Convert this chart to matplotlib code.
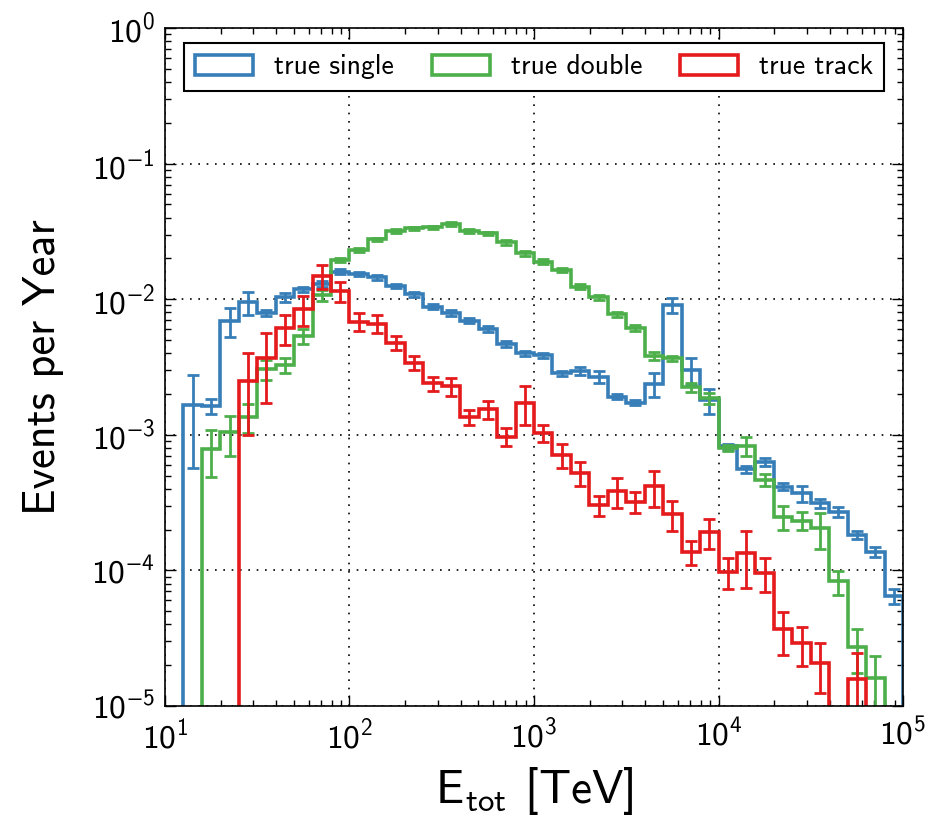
import numpy as np
import matplotlib
matplotlib.use('Agg')
import matplotlib.pyplot as plt
from matplotlib.ticker import FuncFormatter, LogLocator

plt.rcParams['font.family'] = ['cmss10', 'DejaVu Sans']
plt.rcParams['mathtext.fontset'] = 'custom'
plt.rcParams['mathtext.rm'] = 'cmss10'
plt.rcParams['mathtext.sf'] = 'cmss10'
plt.rcParams['mathtext.fallback'] = 'stixsans'  # cmss10 has no minus sign

# 10 bins per decade, 10 TeV .. 1e5 TeV
edges = np.logspace(1, 5, 41)

single = [0, 1.66e-3, 1.63e-3, 6.9e-3, 9.5e-3, 7.9e-3, 1.03e-2, 1.18e-2, 1.29e-2, 1.6e-2,
          1.53e-2, 1.45e-2, 1.25e-2, 1.09e-2, 8.8e-3, 7.9e-3, 6.95e-3, 6.0e-3, 4.65e-3, 3.98e-3,
          3.85e-3, 2.84e-3, 2.95e-3, 2.68e-3, 1.91e-3, 1.73e-3, 2.37e-3, 9.06e-3, 3.0e-3, 1.8e-3,
          8.2e-4, 5.56e-4, 6.34e-4, 4.15e-4, 3.7e-4, 3.12e-4, 2.71e-4, 1.82e-4, 1.37e-4, 6.5e-5]
single_rel = [0, 0.66, 0.12, 0.24, 0.19, 0.05, 0.08, 0.05, 0.05, 0.04,
              0.03, 0.04, 0.04, 0.04, 0.04, 0.05, 0.04, 0.05, 0.05, 0.05,
              0.05, 0.04, 0.07, 0.10, 0.04, 0.04, 0.20, 0.13, 0.22, 0.21,
              0.05, 0.06, 0.07, 0.06, 0.13, 0.08, 0.08, 0.07, 0.09, 0.13]

double = [0, 0, 7.85e-4, 1.04e-3, 1.36e-3, 3.04e-3, 3.27e-3, 5.36e-3, 1.07e-2, 1.95e-2,
          2.31e-2, 2.76e-2, 3.2e-2, 3.33e-2, 3.39e-2, 3.58e-2, 3.2e-2, 3.06e-2, 2.63e-2, 2.18e-2,
          1.89e-2, 1.64e-2, 1.24e-2, 1.03e-2, 7.73e-3, 6.1e-3, 3.81e-3, 3.66e-3, 2.24e-3, 1.86e-3,
          7.95e-4, 8.3e-4, 4.64e-4, 2.49e-4, 2.33e-4, 2.04e-4, 8.3e-5, 2.74e-5, 1.6e-5, 0]
double_rel = [0, 0, 0.38, 0.33, 0.24, 0.17, 0.12, 0.13, 0.10, 0.04,
              0.03, 0.03, 0.03, 0.03, 0.03, 0.03, 0.03, 0.03, 0.04, 0.04,
              0.04, 0.04, 0.04, 0.04, 0.05, 0.05, 0.07, 0.05, 0.08, 0.10,
              0.05, 0.16, 0.10, 0.20, 0.15, 0.30, 0.20, 0.36, 0.45, 0]

track = [0, 0, 0, 0, 2.49e-3, 3.66e-3, 6.1e-3, 8.4e-3, 1.48e-2, 1.15e-2,
         6.83e-3, 6.6e-3, 4.78e-3, 3.4e-3, 2.4e-3, 2.29e-3, 1.35e-3, 1.54e-3, 9.7e-4, 1.73e-3,
         1.03e-3, 7.1e-4, 5.26e-4, 3.04e-4, 3.87e-4, 3.21e-4, 4.19e-4, 2.59e-4, 1.37e-4, 1.93e-4,
         9.8e-5, 1.35e-4, 9.6e-5, 3.67e-5, 2.9e-5, 2.08e-5, 0, 1.57e-5, 0, 0]
track_rel = [0, 0, 0, 0, 0.60, 0.53, 0.25, 0.25, 0.20, 0.17,
             0.15, 0.15, 0.12, 0.12, 0.12, 0.15, 0.13, 0.15, 0.15, 0.32,
             0.14, 0.20, 0.20, 0.17, 0.25, 0.17, 0.30, 0.25, 0.20, 0.25,
             0.25, 0.45, 0.28, 0.35, 0.32, 0.40, 0, 0.56, 0, 0]

labels = ['true single', 'true double', 'true track']
colors = ['#377eb8', '#4daf4a', '#e41a1c']

fig = plt.figure(figsize=(9.3, 8.24), dpi=100)
ax = fig.add_axes([0.1774, 0.1432, 0.7936, 0.8228])

centers = np.sqrt(edges[:-1] * edges[1:])
for vals, rel, lab, c in zip([single, double, track], [single_rel, double_rel, track_rel], labels, colors):
    vals = np.array(vals)
    err = vals * np.array(rel)
    ax.hist(centers, bins=edges, weights=vals, histtype='step', color=c, lw=2.6, label=lab, log=True)
    m = vals > 0
    ax.errorbar(centers[m], vals[m], yerr=err[m], fmt='none', ecolor=c, elinewidth=2, capsize=4.5, capthick=2)

ax.set_xscale('log')
ax.set_yscale('log', nonpositive='clip')
ax.set_xlim(1e1, 1e5)
ax.set_ylim(1e-5, 1)

# decade labels as 10^n
fmt = FuncFormatter(lambda v, pos: r'$\mathrm{10^{%d}}$' % int(round(np.log10(v))))
ax.xaxis.set_major_formatter(fmt)
ax.yaxis.set_major_formatter(fmt)
ax.xaxis.set_major_locator(LogLocator(base=10, numticks=10))
ax.yaxis.set_major_locator(LogLocator(base=10, numticks=10))

ax.grid(True, which='major', color='k', linestyle=(0, (1, 4)), linewidth=1.2)
ax.tick_params(which='both', direction='in', top=True, right=True, labelsize=24)
ax.tick_params(axis='x', pad=9)
ax.tick_params(axis='y', pad=7)
ax.tick_params(which='major', length=8, width=1)
ax.tick_params(which='minor', length=4, width=1)
for s in ax.spines.values():
    s.set_linewidth(1.2)

ax.set_xlabel(r'$\mathrm{E_{tot}}$ [TeV]', fontsize=34, labelpad=8)
ax.set_ylabel('Events per Year', fontsize=32, labelpad=20)

leg = ax.legend(loc='upper center', ncol=3, fontsize=20, fancybox=False, framealpha=1,
                edgecolor='k', handlelength=2.1, handleheight=0.75, handletextpad=0.75,
                columnspacing=1.35, borderaxespad=0.55)
leg.get_frame().set_linewidth(1.5)

fig.savefig('out.png', dpi=100)
